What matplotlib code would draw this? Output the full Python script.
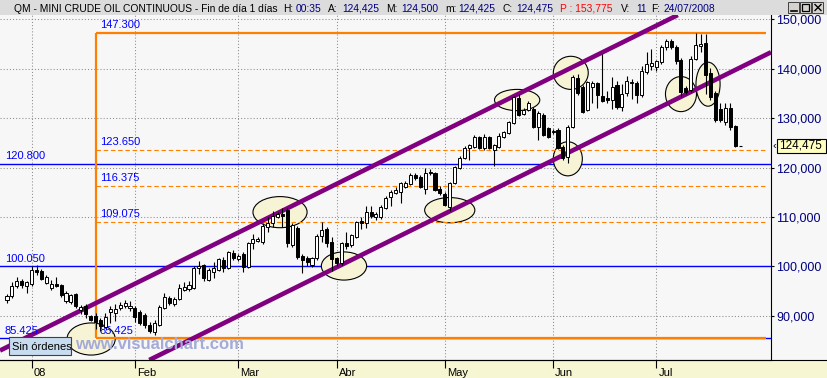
import matplotlib
matplotlib.use("Agg")
import numpy as np
import matplotlib.pyplot as plt
from matplotlib.patches import Ellipse, Rectangle
from matplotlib.lines import Line2D

plt.rcParams['font.family'] = ['Liberation Sans', 'DejaVu Sans']

# daily bars, mini crude oil continuous, late Dec 2007 -> 24 Jul 2008
opens = [93.2, 94.0, 96.0, 97.0, 96.1, 96.4, 99.3, 99.0, 96.7, 95.6,
         96.4, 96.2, 93.0, 92.8, 94.4, 91.2, 92.0, 89.9, 89.9, 89.2,
         87.7, 90.8, 90.6, 91.6, 92.0, 91.6, 91.6, 90.8, 90.2, 88.2,
         86.8, 88.2, 91.6, 93.6, 92.4, 93.4, 95.2, 95.5, 95.6, 99.7,
         100.3, 97.3, 98.9, 99.3, 101.3, 99.7, 102.7, 101.5, 102.5, 99.9,
         104.8, 105.2, 105.0, 108.0, 108.8, 110.0, 110.6, 111.4, 104.4, 107.8,
         102.1, 101.7, 100.3, 101.7, 106.2, 107.6, 105.0, 101.7, 100.7, 104.8,
         104.4, 106.0, 109.2, 108.8, 111.0, 110.0, 110.0, 111.9, 114.1, 114.9,
         115.1, 116.1, 116.7, 118.5, 118.1, 115.7, 119.1, 118.9, 115.7, 114.7,
         112.0, 116.9, 120.0, 122.0, 124.0, 124.2, 126.2, 124.0, 126.2, 123.6,
         124.2, 126.2, 127.0, 129.0, 134.1, 130.9, 131.7, 131.9, 128.2, 130.7,
         128.0, 127.2, 127.6, 124.2, 122.2, 128.2, 138.2, 136.4, 131.7, 136.3,
         137.1, 134.5, 134.2, 133.7, 136.7, 132.3, 135.1, 137.2, 137.1, 134.7,
         139.4, 140.6, 140.4, 141.4, 144.4, 145.6, 144.4, 141.8, 136.1, 135.7,
         142.0, 144.7, 145.2, 139.2, 135.1, 131.9, 129.2, 132.1, 128.4]
highs = [94.5, 96.9, 97.9, 97.4, 97.0, 100.1, 100.3, 99.5, 98.3, 97.3,
         97.9, 96.5, 95.0, 94.5, 94.6, 92.3, 92.4, 90.2, 90.5, 89.5,
         90.5, 92.0, 92.4, 92.8, 93.2, 93.0, 92.0, 91.2, 90.6, 88.8,
         89.2, 92.2, 94.6, 94.0, 93.8, 96.5, 96.8, 97.0, 100.0, 101.2,
         100.6, 99.6, 100.9, 101.8, 102.0, 103.2, 103.3, 102.6, 103.0, 105.0,
         106.5, 106.0, 108.8, 110.0, 111.2, 111.0, 111.8, 111.8, 108.8, 108.2,
         102.6, 102.2, 102.0, 106.6, 109.0, 108.0, 106.0, 102.0, 105.0, 107.0,
         106.6, 109.3, 110.0, 112.3, 112.3, 111.0, 112.4, 114.2, 115.5, 116.0,
         117.2, 117.3, 119.0, 119.0, 118.6, 120.0, 119.8, 119.2, 116.2, 115.0,
         117.2, 120.4, 122.3, 124.3, 124.8, 126.6, 126.5, 126.8, 126.5, 124.8,
         127.0, 127.5, 129.5, 134.6, 135.0, 132.0, 133.4, 132.2, 131.4, 131.0,
         128.3, 127.8, 128.0, 124.5, 128.6, 138.8, 139.0, 136.8, 137.6, 137.6,
         137.4, 143.0, 135.5, 138.3, 137.5, 137.0, 138.6, 138.0, 137.6, 140.5,
         143.4, 144.0, 141.8, 144.8, 146.0, 146.0, 144.8, 142.2, 136.6, 142.6,
         147.3, 147.0, 147.1, 140.2, 135.5, 133.1, 133.0, 133.1, 128.6]
lows = [92.7, 93.7, 95.6, 95.7, 94.6, 96.1, 98.3, 97.3, 96.5, 95.3,
        95.8, 93.9, 92.6, 92.4, 91.5, 90.3, 89.5, 88.9, 87.4, 86.9,
        87.5, 88.5, 89.0, 91.2, 91.6, 91.0, 88.8, 88.2, 87.5, 86.6,
        86.2, 88.0, 91.4, 92.2, 92.0, 93.2, 95.0, 95.0, 95.4, 98.5,
        97.0, 97.0, 97.6, 99.0, 98.8, 99.5, 101.3, 101.2, 98.9, 99.6,
        103.5, 105.0, 104.5, 107.0, 108.0, 109.8, 108.0, 104.0, 104.0, 101.5,
        98.6, 100.2, 99.8, 101.4, 105.0, 104.0, 99.0, 100.0, 100.4, 103.6,
        104.0, 105.8, 107.5, 107.8, 109.8, 109.5, 109.6, 111.6, 112.2, 114.6,
        112.8, 115.8, 116.4, 117.6, 115.8, 114.7, 118.5, 115.2, 114.5, 112.2,
        111.2, 116.6, 119.7, 121.7, 121.5, 124.0, 123.7, 123.5, 123.7, 120.3,
        124.0, 126.0, 126.8, 128.8, 130.5, 130.6, 131.5, 128.0, 125.6, 126.4,
        126.0, 126.8, 123.8, 121.6, 121.0, 128.0, 134.8, 131.0, 131.4, 133.0,
        132.1, 133.2, 133.0, 131.9, 131.8, 131.5, 134.5, 134.0, 133.0, 134.3,
        139.0, 139.8, 139.6, 141.0, 143.8, 144.0, 141.0, 134.4, 134.9, 135.4,
        141.8, 143.5, 135.0, 133.8, 129.2, 129.3, 128.6, 127.6, 124.2]
closes = [94.0, 96.0, 97.0, 96.2, 96.8, 99.3, 98.8, 97.5, 97.9, 96.4,
          96.0, 94.3, 94.6, 94.2, 92.0, 91.8, 90.4, 89.2, 88.8, 88.0,
          89.7, 91.4, 91.4, 92.2, 92.6, 92.1, 89.8, 88.6, 88.2, 87.0,
          88.6, 91.8, 93.8, 92.6, 93.4, 95.6, 95.8, 96.3, 99.7, 100.1,
          97.7, 99.3, 99.7, 101.5, 99.7, 102.9, 101.7, 102.2, 99.9, 104.7,
          105.6, 105.6, 108.2, 108.8, 110.2, 110.6, 110.3, 104.7, 108.4, 101.9,
          101.3, 101.0, 101.7, 106.2, 107.4, 104.8, 101.5, 100.7, 104.8, 104.2,
          106.4, 109.0, 108.8, 111.0, 110.2, 110.6, 112.0, 113.9, 115.1, 115.5,
          116.9, 116.9, 118.5, 118.0, 116.1, 118.9, 118.9, 115.5, 114.9, 112.5,
          116.9, 120.1, 122.0, 124.0, 124.6, 126.2, 124.0, 126.2, 124.0, 124.6,
          126.4, 127.2, 129.2, 134.3, 130.7, 131.7, 133.1, 128.2, 131.1, 126.6,
          126.2, 127.5, 124.0, 122.0, 128.2, 138.4, 135.1, 131.3, 137.3, 137.1,
          134.7, 133.5, 133.8, 136.3, 132.3, 134.9, 137.5, 137.4, 134.7, 139.5,
          141.0, 141.2, 141.6, 144.4, 145.6, 144.4, 141.6, 135.3, 135.3, 142.0,
          144.8, 145.1, 138.8, 134.3, 129.6, 129.6, 132.1, 128.2, 124.475]

month_pos = [5, 26, 47, 67, 89, 111, 132]
month_lbl = ['08', 'Feb', 'Mar', 'Abr', 'May', 'Jun', 'Jul']
price_ticks = [90, 100, 110, 120, 130, 140, 150]

fib_levels = [147.300, 123.650, 116.375, 109.075, 85.425]
blue_levels = [120.800, 100.050, 85.425]
fib_start = 18.1          # bar where the retracement is anchored
fib_end = 154.3

# trend channel: anchor (bar, price) and common slope per bar
channel_upper = (18.1, 92.61)
channel_lower = (58.5, 95.65)
channel_slope = 0.493

# marked zones: centre bar, centre price, width (bars), height (price)
zones = [(17.1, 85.32, 9.8, 6.5), (55.5, 111.0, 11.0, 6.3),
         (68.5, 100.1, 9.2, 5.7), (90.0, 111.4, 10.2, 5.1),
         (103.7, 133.7, 9.2, 4.3), (114.6, 139.2, 7.1, 6.7),
         (114.0, 121.8, 5.9, 6.9), (137.0, 134.9, 6.3, 7.1),
         (142.5, 136.9, 4.9, 8.9)]

W, H = 828, 378
BG = '#F7F7F7'
ORANGE = '#FF8000'
PURPLE = '#800080'
NAVY = '#000080'


def fx(p):
    return p / W


def fy(p):
    return 1 - p / H


fig = plt.figure(figsize=(W / 100, H / 100), dpi=100, facecolor=BG)
ax = fig.add_axes([0, fy(360), fx(771), (360 - 15) / H])
ax.set_facecolor(BG)
ax.set_xlim(-1.42, 155.3)
ax.set_ylim(81.07, 150.91)

# grid
ax.set_yticks(price_ticks)
ax.set_yticklabels([f'{v:.3f}'.replace('.', ',') for v in price_ticks])
ax.set_xticks(month_pos)
ax.set_axisbelow(True)
ax.grid(True, color='#8C8C8C', linestyle=(0, (1, 2)), linewidth=0.75)
ax.yaxis.tick_right()
ax.tick_params(axis='y', direction='out', length=2.4, width=0.8, pad=1.5,
               labelsize=9, labelcolor=NAVY, color='black')
ax.tick_params(axis='x', direction='out', length=5.8, width=0.8,
               labelbottom=False, color='black')
for s in ['left', 'top']:
    ax.spines[s].set_visible(False)
for s in ['right', 'bottom']:
    ax.spines[s].set_linewidth(0.8)

for i, lbl in zip(month_pos, month_lbl):
    ax.annotate(lbl, xy=(i, 0), xycoords=('data', 'axes fraction'),
                xytext=(1.4, -5.6), textcoords='offset points',
                ha='left', va='top', fontsize=8, annotation_clip=False)

# horizontal blue levels
for lv in blue_levels:
    ax.axhline(lv, color='#0000FF', lw=1.0, zorder=1.5)
    ax.annotate(f'{lv:.3f}', xy=(-0.41, lv), xytext=(0, 3.3),
                textcoords='offset points', va='baseline', ha='left',
                fontsize=8, color='#0000FF', zorder=6)

# zones
for cx, cy, w, h in zones:
    ax.add_patch(Ellipse((cx, cy), w, h, facecolor='#F7F4D6',
                         edgecolor='black', lw=0.8, zorder=2))

# fibonacci retracement
ax.hlines([fib_levels[0], fib_levels[-1]], fib_start, fib_end,
          color=ORANGE, lw=1.6, zorder=3)
for lv in fib_levels[1:-1]:
    ax.plot([fib_start, fib_end], [lv, lv], color=ORANGE, lw=0.8,
            linestyle=(0, (4, 2.5)), zorder=3)
ax.vlines(fib_start, fib_levels[-1], fib_levels[0], color=ORANGE, lw=1.6,
          zorder=3)
for lv in fib_levels:
    ax.annotate(f'{lv:.3f}', xy=(fib_start + 0.8, lv), xytext=(0, 3.3),
                textcoords='offset points', va='baseline', ha='left',
                fontsize=8, color='#0000FF', zorder=6)

# channel
for anchor in (channel_upper, channel_lower):
    ax.axline(anchor, slope=channel_slope, color=PURPLE, lw=3.3, zorder=4,
              solid_capstyle='butt')

# candles
x = np.arange(len(closes))
o = np.array(opens)
c = np.array(closes)
ax.vlines(x, lows, highs, color='black', lw=0.8, zorder=5)
up = c >= o
ax.bar(x, np.abs(c - o), bottom=np.minimum(o, c), width=0.62,
       color=np.where(up, 'white', 'black'), edgecolor='black', lw=0.7,
       zorder=6)
ax.hlines(closes[-1], x[-1] + 0.7, x[-1] + 1.4, color='black', lw=0.8,
          zorder=6)

# bottom band, title bar and frame lines
fig.add_artist(Rectangle((0, 0), 1, 18 / H, transform=fig.transFigure,
                         facecolor='#F6F6D2', edgecolor='none', zorder=-1))
fig.add_artist(Line2D([0, 1], [fy(360), fy(360)], transform=fig.transFigure,
                      color='black', lw=0.8, zorder=2))
fig.add_artist(Rectangle((0, fy(15)), 1, 15 / H, transform=fig.transFigure,
                         facecolor='#DCDCDC', edgecolor='none', zorder=2))

title_parts = [
    (14, 'QM - MINI CRUDE OIL CONTINUOUS - Fin de día 1 días', 'black'),
    (283, 'H:', 'black'), (296, '00:35', NAVY),
    (328, 'A:', 'black'), (342, '124,425', NAVY),
    (386, 'M:', 'black'), (401, '124,500', NAVY),
    (445, 'm:', 'black'), (458, '124,425', NAVY),
    (503, 'C:', 'black'), (516, '124,475', NAVY),
    (560, 'P : 153,775', '#FF0000'),
    (621, 'V:', 'black'), (636, '11', NAVY),
    (651, 'F:', 'black'), (664, '24/07/2008', NAVY),
]
for px, s, col in title_parts:
    fig.text(fx(px), fy(11.5), s, color=col, fontsize=7.4, va='baseline',
             zorder=3)

# window buttons
for bx in (788, 800, 812):
    fig.add_artist(Rectangle((fx(bx), fy(13)), 11.5 / W, 11 / H,
                             transform=fig.transFigure, facecolor='#D6D3CE',
                             edgecolor='#404040', lw=0.7, zorder=3))
fig.add_artist(Line2D([fx(791), fx(797)], [fy(10.5), fy(10.5)],
                      transform=fig.transFigure, color='black', lw=1.2,
                      zorder=4))
fig.add_artist(Rectangle((fx(802.5), fy(10.5)), 6.5 / W, 6 / H,
                         transform=fig.transFigure, facecolor='none',
                         edgecolor='black', lw=0.9, zorder=4))
fig.add_artist(Line2D([fx(815), fx(821)], [fy(4.5), fy(10.5)],
                      transform=fig.transFigure, color='black', lw=1.0,
                      zorder=4))
fig.add_artist(Line2D([fx(815), fx(821)], [fy(10.5), fy(4.5)],
                      transform=fig.transFigure, color='black', lw=1.0,
                      zorder=4))

# last price tag
last_y = 19.5 + (150 - closes[-1]) * 4.94
fig.add_artist(Rectangle((fx(777), fy(last_y + 7)), 49 / W, 14 / H,
                         transform=fig.transFigure, facecolor='#FFFFC0',
                         edgecolor='black', lw=0.8, zorder=3))
fig.text(fx(779.5), fy(last_y), f'{closes[-1]:.3f}'.replace('.', ','),
         fontsize=8.5, va='center', zorder=4)
fig.text(fx(772.5), fy(last_y), '‹', fontsize=8, va='center', zorder=4)

# order box and watermark
fig.add_artist(Rectangle((fx(9), fy(355)), 62 / W, 18 / H,
                         transform=fig.transFigure, facecolor='#C8DCF0',
                         edgecolor='#404040', lw=0.8, zorder=4))
fig.text(fx(12), fy(349.5), 'Sin órdenes', fontsize=8, va='baseline',
         zorder=5)
fig.text(fx(75), fy(349), 'www.visualchart.com', fontsize=12,
         fontweight='bold', color='#A3ABD6', va='baseline', zorder=3)

fig.savefig('out.png', dpi=100, facecolor=BG)
